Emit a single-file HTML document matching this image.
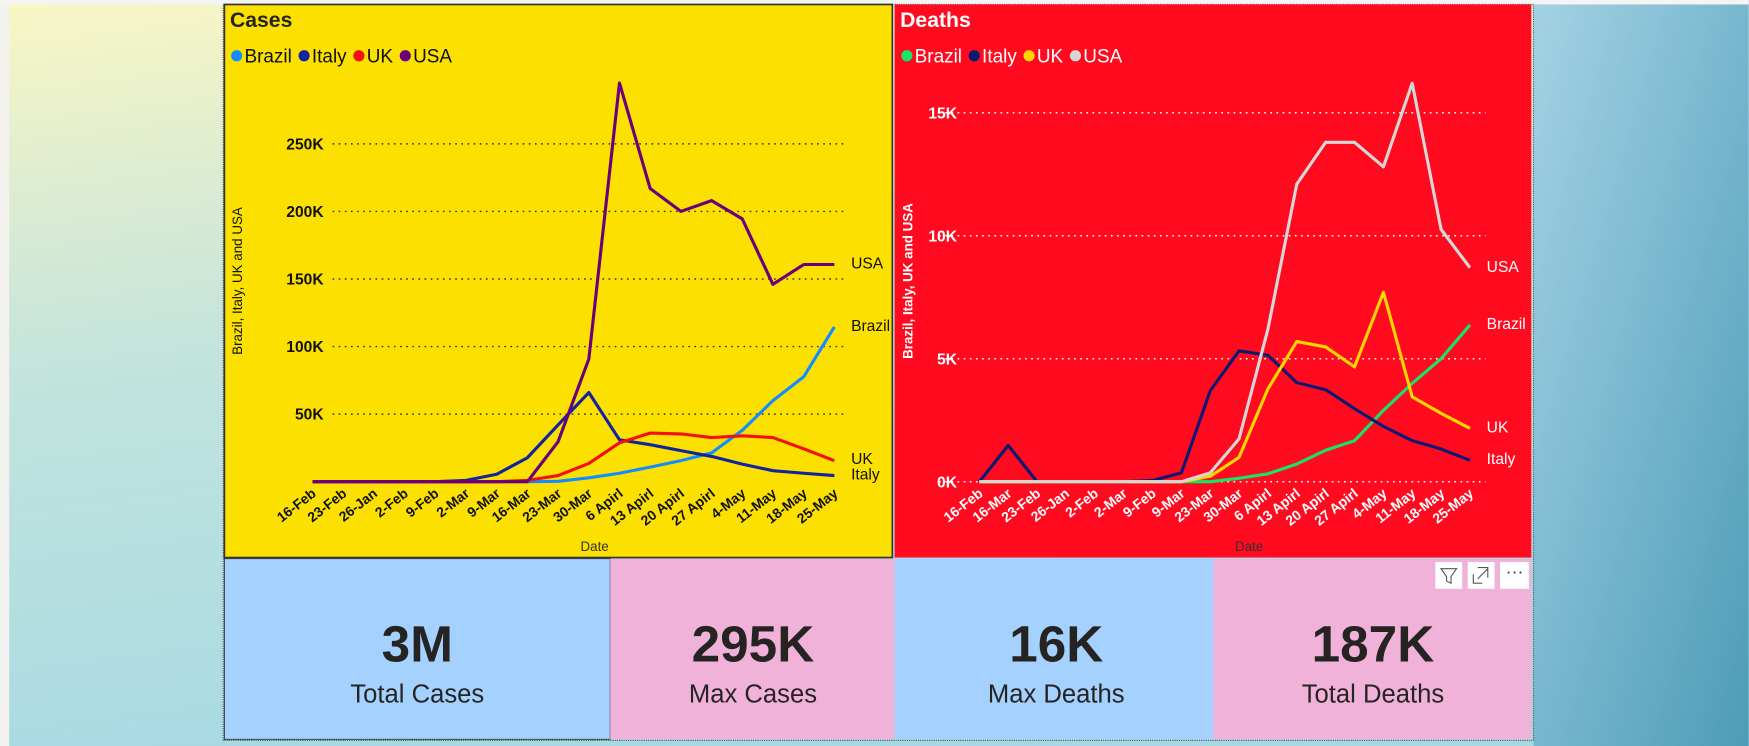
<!DOCTYPE html>
<html><head><meta charset="utf-8"><style>
html,body{margin:0;padding:0;width:1749px;height:746px;overflow:hidden;background:#fff}
svg{display:block}
text{font-family:"Liberation Sans Narrow","Liberation Sans",sans-serif}
</style></head><body>
<svg id="root" width="1749" height="746" viewBox="0 0 1568 669" xmlns="http://www.w3.org/2000/svg">
<defs>
<linearGradient id="lg" x1="0" y1="0" x2="0.3" y2="1"><stop offset="0" stop-color="#faf6c4"/><stop offset="0.45" stop-color="#c4e4dc"/><stop offset="1" stop-color="#a6d9e4"/></linearGradient>
<linearGradient id="rg" x1="0" y1="0" x2="1" y2="1"><stop offset="0" stop-color="#a4d2e4"/><stop offset="1" stop-color="#4d9cb8"/></linearGradient>
</defs>
<rect x="0" y="0" width="1568" height="669" fill="url(#lg)"/>
<rect x="1375" y="0" width="193" height="669" fill="url(#rg)"/>
<rect x="0" y="0" width="8" height="669" fill="#f4f2ef"/>
<rect x="0" y="0" width="1568" height="4" fill="#f4f4f4"/>
<rect x="200" y="4" width="1175" height="660" fill="none" stroke="#555" stroke-dasharray="1,1"/>
<g id="cases">
<rect x="201" y="4" width="599" height="496" fill="#FCE000" stroke="#333" stroke-width="1.5"/>
<text x="206" y="24" font-size="19" font-weight="bold" fill="#252423">Cases</text>
</g>
<g id="deaths">
<rect x="802" y="4" width="571" height="496" fill="#FF0A1E"/>
<text x="807" y="24" font-size="19" font-weight="bold" fill="#fff">Deaths</text>
</g>
<g>
<rect x="201" y="501" width="346" height="162" fill="#A4D1FD" stroke="#333" stroke-width="0.8"/>
<rect x="547" y="501" width="255" height="162" fill="#F1B2DA"/>
<rect x="802" y="501" width="286" height="162" fill="#A4D1FD"/>
<rect x="1088" y="501" width="285" height="162" fill="#F1B2DA"/>
<g font-weight="bold" font-size="46" fill="#252423" text-anchor="middle">
<text x="374" y="593">3M</text>
<text x="675" y="593">295K</text>
<text x="947" y="593">16K</text>
<text x="1231" y="593">187K</text>
</g>
<g font-size="23" fill="#252423" text-anchor="middle">
<text x="374" y="630">Total Cases</text>
<text x="675" y="630">Max Cases</text>
<text x="947" y="630">Max Deaths</text>
<text x="1231" y="630">Total Deaths</text>
</g>
</g>
<g>
<rect x="1287" y="504" width="24" height="24" fill="#fff"/>
<path d="M1292 510h14l-5 7v6l-4-2v-4z" fill="none" stroke="#555"/>
<rect x="1316" y="504" width="24" height="24" fill="#fff"/>
<path d="M1321 515v8h8M1325 509h9v9M1325 519l9-9" fill="none" stroke="#555"/>
<rect x="1345" y="504" width="26" height="24" fill="#fff"/>
<text x="1358" y="518" font-size="16" text-anchor="middle" fill="#333">···</text>
</g>
</svg>
<script>
const NS='http://www.w3.org/2000/svg';
const categoriesCases=['16-Feb','23-Feb','26-Jan','2-Feb','9-Feb','2-Mar','9-Mar','16-Mar','23-Mar','30-Mar','6 Apirl','13 Apirl','20 Apirl','27 Apirl','4-May','11-May','18-May','25-May'];
const casesBrazil=[0,0,0,0,0,0,0,0,300,2900,6300,10800,15600,21400,38000,60000,77600,114500];
const casesItaly=[0,0,0,0,0,1000,5500,17700,42000,66000,31000,27400,23000,18700,13000,8200,6300,4500];
const casesUK=[0,0,0,0,0,0,0,1000,4500,13500,28800,36000,35400,32700,34000,32700,24300,15600];
const casesUSA=[0,0,0,0,0,0,0,0,29500,90800,295000,217000,200000,208000,194500,146000,160700,160700];
const casesTicks=[50000,100000,150000,200000,250000];
const casesTickLabels=['50K','100K','150K','200K','250K'];
const categoriesDeaths=['16-Feb','16-Mar','23-Feb','26-Jan','2-Feb','2-Mar','9-Feb','9-Mar','23-Mar','30-Mar','6 Apirl','13 Apirl','20 Apirl','27 Apirl','4-May','11-May','18-May','25-May'];
const deathsBrazil=[0,0,0,0,0,0,0,0,0,140,320,720,1280,1670,2900,4000,5000,6380];
const deathsItaly=[0,1480,0,0,0,0,50,360,3700,5320,5140,4030,3740,2970,2250,1670,1330,870];
const deathsUK=[0,0,0,0,0,0,0,0,220,990,3770,5700,5480,4670,7700,3450,2780,2170];
const deathsUSA=[0,0,0,0,0,0,0,0,360,1740,6200,12100,13800,13800,12800,16200,10260,8700];
const deathsTicks=[0,5000,10000,15000];
const deathsTickLabels=['0K','5K','10K','15K'];

function mk(tag,attrs,parent,txt){const e=document.createElementNS(NS,tag);for(const k in attrs)e.setAttribute(k,attrs[k]);if(txt!==undefined)e.textContent=txt;parent.appendChild(e);return e;}

function drawChart(cfg){
  const g=document.getElementById(cfg.id);
  const xs=i=>cfg.x0+i*(cfg.x1-cfg.x0)/(cfg.cats.length-1);
  const ys=v=>cfg.y0-v*cfg.pxPer;
  let lx=cfg.legendX;
  cfg.series.forEach(s=>{
    const c=mk('circle',{cx:lx+5,cy:50,r:5,fill:s.color},g);
    
    
    const t=mk('text',{x:lx+12,y:56,'font-size':17,fill:cfg.text},g,s.name);
    
    
    lx+=12+t.getComputedTextLength()+6;
  });
  cfg.ticks.forEach((v,i)=>{
    const y=ys(v);
    const l=mk('line',{x1:cfg.gx0,x2:cfg.gx1,y1:y,y2:y,stroke:cfg.grid,'stroke-width':1.3,'stroke-dasharray':'1.5,4'},g);
    
    
    const t=mk('text',{x:cfg.tickX,y:y+5,'font-size':14,'font-weight':'bold','text-anchor':'end',fill:cfg.text},g,cfg.tickLabels[i]);
    
    
  });
  cfg.cats.forEach((c,i)=>{
    const x=xs(i)+4,y=cfg.y0+12;
    const t=mk('text',{x:x,y:y,'font-size':12.5,'font-weight':'bold','text-anchor':'end',fill:cfg.text,transform:`rotate(-38 ${x} ${y})`},g,c);
    
    
  });
  const yt=mk('text',{x:0,y:0,'font-size':12,fill:cfg.text,'text-anchor':'middle',transform:`translate(${cfg.ytX} ${cfg.ytY}) rotate(-90)`,'font-weight':cfg.ytBold?'bold':'normal'},g,'Brazil, Italy, UK and USA');
  
  
  const xt=mk('text',{x:cfg.xtX,y:494,'font-size':12,fill:'#333','text-anchor':'middle'},g,'Date');
  
  
  cfg.series.forEach(s=>{
    const pts=s.data.map((v,i)=>xs(i).toFixed(1)+','+ys(v).toFixed(1)).join(' ');
    const p=mk('polyline',{points:pts,fill:'none',stroke:s.color,'stroke-width':2.8,'stroke-linejoin':'round'},g);
    
    
    const t=mk('text',{x:cfg.x1+15,y:s.labelY,'font-size':14,fill:cfg.text},g,s.name);
    
    
  });
}
drawChart({id:'cases',cats:categoriesCases,x0:280,x1:748,y0:432,pxPer:60.6/50000,gx0:298,gx1:756,tickX:290,grid:'#333',text:'#111',legendX:207,ytX:217,ytY:252,xtX:533,
  ticks:casesTicks,tickLabels:casesTickLabels,
  series:[{name:'Brazil',data:casesBrazil,color:'#118DFF',labelY:297},{name:'Italy',data:casesItaly,color:'#12239E',labelY:430},{name:'UK',data:casesUK,color:'#F21010',labelY:416},{name:'USA',data:casesUSA,color:'#6B007B',labelY:241}]});
drawChart({id:'deaths',cats:categoriesDeaths,x0:878,x1:1318,y0:432,pxPer:110.3/5000,gx0:842,gx1:1332,tickX:858,grid:'#fff',text:'#fff',legendX:808,ytX:818,ytY:252,ytBold:true,xtX:1120,
  ticks:deathsTicks,tickLabels:deathsTickLabels,
  series:[{name:'Brazil',data:deathsBrazil,color:'#15E66A',labelY:295},{name:'Italy',data:deathsItaly,color:'#0C1A72',labelY:416},{name:'UK',data:deathsUK,color:'#FFD600',labelY:388},{name:'USA',data:deathsUSA,color:'#D6D6D6',labelY:244}]});
</script>
</body></html>
